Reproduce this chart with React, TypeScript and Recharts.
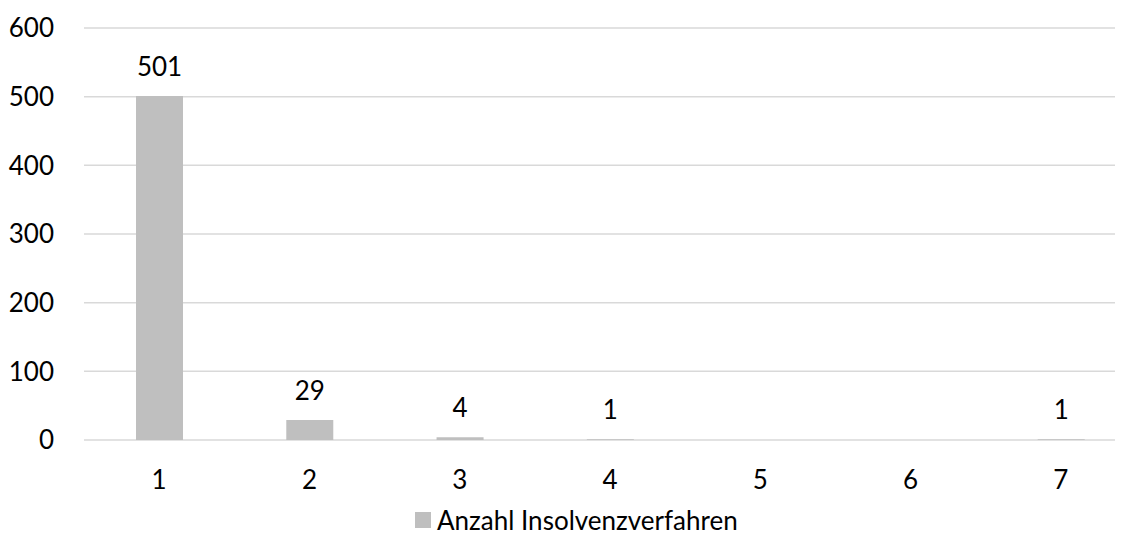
import { BarChart, Bar, XAxis, YAxis, CartesianGrid, Legend, LabelList } from "recharts";

const categories = ["1", "2", "3", "4", "5", "6", "7"];
const counts = [501, 29, 4, 1, 0, 0, 1];
const yTicks = [0, 100, 200, 300, 400, 500, 600];
const seriesName = "Anzahl Insolvenzverfahren";

const data = categories.map((name, i) => ({ name, count: counts[i] }));

const FONT = "Lato, 'Noto Sans', sans-serif";

const LegendContent = () => (
  <div
    style={{
      height: 30,
      display: "flex",
      alignItems: "center",
      fontFamily: FONT,
      fontSize: 26,
      color: "#000",
    }}
  >
    <span style={{ width: 16, height: 16, background: "#bfbfbf", marginRight: 6, display: "inline-block" }} />
    <span>{seriesName}</span>
  </div>
);

export default function App() {
  return (
    <div style={{ width: 1115, height: 541, overflow: "hidden" }}>
      <BarChart
        width={1128}
        height={541}
        data={data}
        margin={{ top: 20, right: 0, left: 0, bottom: 14 }}
        barCategoryGap={0}
      >
        <CartesianGrid vertical={false} stroke="#d9d9d9" strokeWidth={1.5} />
        <XAxis
          dataKey="name"
          axisLine={false}
          tickLine={false}
          tickSize={0}
          tickMargin={31}
          height={65}
          tick={{ fill: "#000", fontSize: 26, fontFamily: FONT }}
        />
        <YAxis
          domain={[0, 600]}
          ticks={yTicks}
          axisLine={false}
          tickLine={false}
          tickSize={0}
          tickMargin={30}
          width={76}
          tick={{ fill: "#000", fontSize: 26, fontFamily: FONT }}
        />
        <Legend
          verticalAlign="bottom"
          content={<LegendContent />}
          wrapperStyle={{ left: 407, width: "auto" }}
        />
        <Bar dataKey="count" name={seriesName} fill="#bfbfbf" barSize={47} isAnimationActive={false}>
          <LabelList
            dataKey="count"
            position="top"
            offset={20}
            fill="#000"
            fontSize={26}
            fontFamily={FONT}
            formatter={(v: number) => (v === 0 ? "" : v)}
          />
        </Bar>
      </BarChart>
    </div>
  );
}
